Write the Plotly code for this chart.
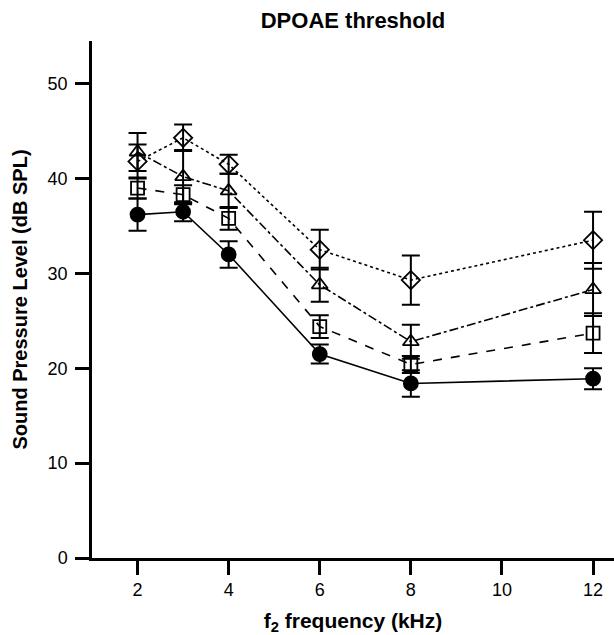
import plotly.graph_objects as go

freq_khz = [2, 3, 4, 6, 8, 12]

circle_vals = [36.2, 36.5, 32.0, 21.5, 18.4, 18.9]
circle_err = [1.7, 1.0, 1.4, 1.0, 1.4, 1.1]

square_vals = [39.0, 38.3, 35.8, 24.4, 20.4, 23.7]
square_err = [1.1, 1.0, 1.2, 1.2, 0.9, 2.1]

triangle_vals = [42.8, 40.2, 38.7, 28.8, 22.8, 28.3]
triangle_err = [2.0, 2.8, 1.8, 1.8, 1.8, 2.8]

diamond_vals = [41.8, 44.3, 41.5, 32.5, 29.3, 33.5]
diamond_err = [1.8, 1.4, 1.0, 2.1, 2.6, 3.0]

x_ticks = [2, 4, 6, 8, 10, 12]
y_ticks = [0, 10, 20, 30, 40, 50]

FONT = "Liberation Sans, Arial, sans-serif"

series = [
    (diamond_vals, diamond_err, "diamond-open", "dot", 14),
    (triangle_vals, triangle_err, "triangle-up-open", "dashdot", 14),
    (square_vals, square_err, "square-open", "dash", 13),
    (circle_vals, circle_err, "circle", "solid", 14),
]

fig = go.Figure()
for vals, err, sym, dash, size in series:
    fig.add_trace(go.Scatter(
        x=freq_khz, y=vals, mode="lines+markers",
        line=dict(color="black", width=1.6, dash=dash),
        marker=dict(symbol=sym, size=size, color="black",
                    line=dict(color="black", width=1.8)),
        error_y=dict(type="data", array=err, visible=True,
                     color="black", thickness=2, width=9),
        showlegend=False,
    ))

fig.update_layout(
    width=614, height=635,
    margin=dict(l=92, r=0, t=41, b=77),
    paper_bgcolor="white", plot_bgcolor="white",
    font=dict(family=FONT, color="black", size=18),
    title=dict(text="DPOAE threshold", x=0.5, xref="paper", xanchor="center",
               y=0.968, yanchor="middle",
               font=dict(family=FONT, size=22, weight="bold", color="black")),
)
fig.update_xaxes(
    range=[1.0, 12.46], tickvals=x_ticks, ticktext=[str(t) for t in x_ticks],
    showgrid=False, zeroline=False, showline=True, linecolor="black", linewidth=2.5,
    ticks="outside", ticklen=14, tickwidth=2.5, tickcolor="black",
    tickfont=dict(family=FONT, size=18), automargin=False,
    title=dict(text="f<sub>2</sub> frequency (kHz)", standoff=15,
               font=dict(family=FONT, size=21, weight="bold")),
)
fig.update_yaxes(
    range=[0, 54.5], tickvals=y_ticks, ticktext=[str(t) for t in y_ticks],
    showgrid=False, zeroline=False, showline=True, linecolor="black", linewidth=2.5,
    ticks="outside", ticklen=14, tickwidth=2.5, tickcolor="black",
    tickfont=dict(family=FONT, size=18), automargin=False, ticklabelstandoff=4,
    title=dict(text="Sound Pressure Level (dB SPL)", standoff=15,
               font=dict(family=FONT, size=20, weight="bold")),
)

fig.write_html("out.html")
